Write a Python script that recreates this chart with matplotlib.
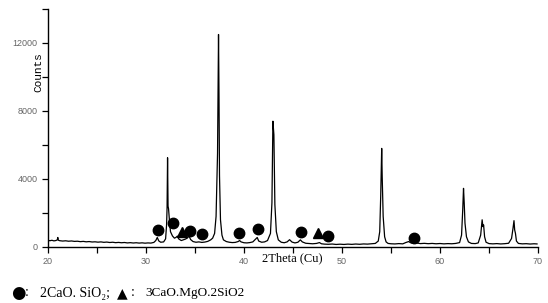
import matplotlib
matplotlib.use('Agg')
import matplotlib.pyplot as plt
from matplotlib.ticker import MultipleLocator

# XRD trace (2theta in degrees, counts)
two_theta = [20.0, 20.2, 20.4, 20.6, 20.8, 20.95, 21.0, 21.05, 21.2, 21.5, 21.8, 22.1, 22.4, 22.7,
             23.0, 23.3, 23.6, 23.9, 24.2, 24.5, 24.8, 25.1, 25.4, 25.7, 26.0, 26.3, 26.6, 26.9,
             27.2, 27.5, 27.8, 28.1, 28.4, 28.7, 29.0, 29.3, 29.6, 29.9, 30.2, 30.5, 30.8, 31.0,
             31.15, 31.3, 31.5, 31.8, 32.0, 32.1, 32.15, 32.2, 32.25, 32.3, 32.4, 32.5, 32.7, 32.9,
             33.05, 33.2, 33.35, 33.6, 33.8, 34.0, 34.2, 34.4, 34.55, 34.8, 35.1, 35.4, 35.7, 36.0,
             36.3, 36.6, 36.8, 37.0, 37.15, 37.3, 37.4, 37.45, 37.5, 37.6, 37.75, 37.9, 38.2, 38.5,
             38.8, 39.1, 39.4, 39.55, 39.7, 40.0, 40.3, 40.6, 40.9, 41.2, 41.35, 41.5, 41.8, 42.1,
             42.4, 42.7, 42.85, 42.95, 43.05, 43.15, 43.3, 43.5, 43.8, 44.1, 44.4, 44.65, 44.9, 45.2,
             45.5, 45.75, 45.95, 46.3, 46.7, 47.0, 47.4, 47.7, 47.9, 48.2, 48.6, 49.0, 49.4, 49.8,
             50.2, 50.6, 51.0, 51.4, 51.8, 52.2, 52.6, 53.0, 53.4, 53.7, 53.85, 53.95, 54.05, 54.1,
             54.2, 54.35, 54.5, 54.7, 55.0, 55.4, 55.8, 56.2, 56.5, 56.8, 57.0, 57.3, 57.7, 58.0,
             58.4, 58.8, 59.2, 59.6, 60.0, 60.4, 60.8, 61.2, 61.6, 62.0, 62.2, 62.32, 62.4, 62.47,
             62.55, 62.7, 62.9, 63.2, 63.6, 63.9, 64.15, 64.3, 64.38, 64.45, 64.55, 64.7, 65.0, 65.4,
             65.8, 66.2, 66.6, 67.0, 67.3, 67.45, 67.55, 67.62, 67.7, 67.8, 68.0, 68.4, 68.8, 69.2,
             69.6, 69.9]
counts = [390, 370, 395, 360, 380, 420, 560, 400, 370, 350, 365, 340, 355, 330,
          340, 315, 330, 305, 320, 295, 305, 285, 300, 275, 290, 265, 280, 255,
          270, 250, 265, 240, 255, 235, 250, 230, 245, 225, 240, 230, 270, 380,
          560, 360, 280, 300, 480, 1300, 2300, 5250, 2400, 2250, 1500, 900, 650, 520,
          560, 640, 470, 380, 420, 460, 520, 640, 440, 320, 280, 300, 270, 290,
          330, 420, 520, 800, 1800, 5500, 12500, 8800, 4200, 1600, 700, 420, 320, 280,
          260, 270, 320, 380, 300, 250, 240, 260, 300, 470, 560, 350, 280, 300,
          380, 800, 2600, 7400, 6600, 2500, 900, 420, 280, 250, 300, 430, 290, 240,
          280, 420, 300, 220, 200, 190, 210, 260, 190, 170, 160, 175, 150, 165,
          150, 170, 155, 175, 160, 180, 170, 190, 210, 350, 900, 3000, 5800, 4200,
          1800, 600, 300, 210, 190, 180, 200, 185, 260, 320, 250, 210, 230, 200,
          215, 195, 210, 190, 205, 185, 200, 190, 210, 260, 700, 2200, 3450, 2600,
          1400, 600, 300, 210, 200, 240, 700, 1600, 1200, 1300, 600, 280, 200, 185,
          200, 180, 195, 220, 500, 1100, 1550, 1000, 800, 350, 210, 185, 195, 175,
          190, 180]

# phase markers
c2s_x = [31.2, 32.8, 34.5, 35.7, 39.5, 41.4, 45.8, 48.6, 57.3]
c2s_y = [1000, 1430, 940, 760, 820, 1040, 880, 650, 510]
c3ms2_x = [33.7, 47.6]
c3ms2_y = [900, 820]

fig = plt.figure(figsize=(5.48, 3.03), dpi=100)
ax = fig.add_axes([48 / 548, 1 - 247 / 303, 490 / 548, 238 / 303])

ax.plot(two_theta, counts, color='black', lw=0.9)
ax.plot(c2s_x, c2s_y, 'o', color='black', ms=7.5, ls='none')
ax.plot(c3ms2_x, c3ms2_y, '^', color='black', ms=7, ls='none')

ax.set_xlim(20, 70)
ax.set_ylim(0, 14000)
ax.xaxis.set_major_locator(MultipleLocator(10))
ax.xaxis.set_minor_locator(MultipleLocator(5))
ax.yaxis.set_major_locator(MultipleLocator(4000))
ax.yaxis.set_minor_locator(MultipleLocator(2000))
ax.tick_params(which='both', direction='out', width=0.9, colors='black',
               labelcolor='#666666', labelsize=6.5)
ax.tick_params(which='major', length=4)
ax.tick_params(which='minor', length=4)
for lab in ax.get_xticklabels() + ax.get_yticklabels():
    lab.set_family('Liberation Sans')
ax.spines['top'].set_visible(False)
ax.spines['right'].set_visible(False)
ax.spines['left'].set_linewidth(1)
ax.spines['bottom'].set_linewidth(1)

fig.text(292 / 548, 1 - 258 / 303, '2Theta (Cu)', ha='center', va='center',
         family='Liberation Serif', fontsize=9)
fig.text(38 / 548, 1 - 72 / 303, 'Counts', rotation=90, ha='center', va='center',
         family='Liberation Mono', fontsize=8)

# legend line under the chart
ly = 1 - 293 / 303
fig.text(11 / 548, ly, '\u25cf', ha='left', va='center', family='DejaVu Sans', fontsize=12)
fig.text(25 / 548, ly, ':', ha='left', va='center', family='Liberation Serif', fontsize=10)
fig.text(40 / 548, ly, '2CaO. SiO\u2082;', ha='left', va='center',
         family=['Liberation Serif', 'DejaVu Sans'], fontsize=10)
fig.text(117 / 548, ly, '\u25b2', ha='left', va='center', family='DejaVu Sans', fontsize=10)
fig.text(131 / 548, ly, ':', ha='left', va='center', family='Liberation Serif', fontsize=10)
fig.text(145 / 548, ly, '3CaO.MgO.2SiO2', ha='left', va='center',
         family='Liberation Serif', fontsize=9.5)

fig.savefig('out.png', dpi=100)
